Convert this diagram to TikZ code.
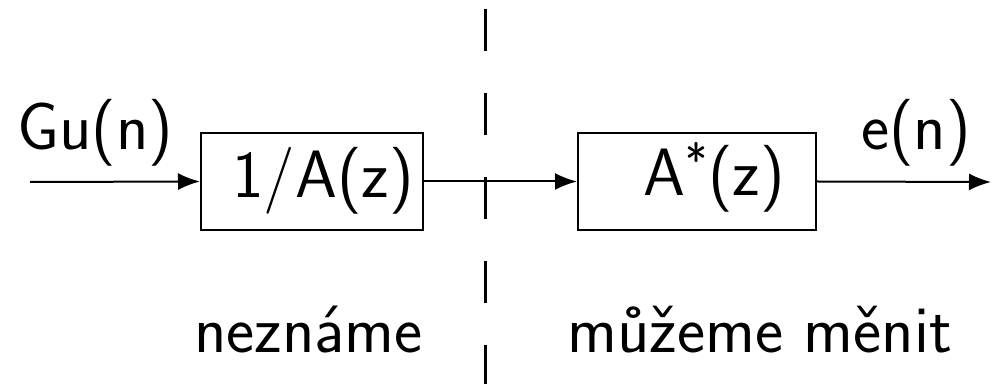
\documentclass[tikz,border=0pt]{standalone}
\usepackage{fontspec}
\usetikzlibrary{arrows.meta}
\begin{document}
\begin{tikzpicture}[x=0.5pt,y=-0.5pt,
  every node/.style={font=\sffamily\fontsize{33.5}{40}\selectfont, inner sep=0pt},
  block/.style={draw, line width=1pt, minimum height=48.5pt},
  label/.style={anchor=base west},
  signal/.style={line width=1pt, -{Latex[length=11pt,width=8.5pt]}},
  divider/.style={line width=1.5pt, dash pattern=on 21pt off 21pt}]
  \useasboundingbox (0,0) rectangle (992,384);

  % the two filter blocks
  \node[block, minimum width=111pt] (inv) at (312,181.5) {};
  \node[block, minimum width=119pt] (fir) at (697,181.5) {};
  \node[label] (invtxt) at (232,198) {1/A(z)};
  \node[label] (firtxt) at (643,196) {A\textsuperscript{*}(z)};

  % signals
  \coordinate (src) at (30,182);
  \coordinate (dst) at (991,182);
  \draw[signal] (src) -- (inv.west);
  \draw[signal] (inv.east) -- (fir.west);
  \draw[signal] (fir.east) -- (dst);
  \node[label] (gu) at (17,150) {Gu(n)};
  \node[label] (en) at (861,150) {e(n)};

  % boundary between the unknown and the adjustable part
  \coordinate (dtop) at (485,9);
  \coordinate (dbot) at (485,390);
  \draw[divider] (dtop) -- (dbot);

  \node[label] (left) at (194,353) {neznáme};
  \node[label] (right) at (567,353) {můžeme měnit};
\end{tikzpicture}
\end{document}
